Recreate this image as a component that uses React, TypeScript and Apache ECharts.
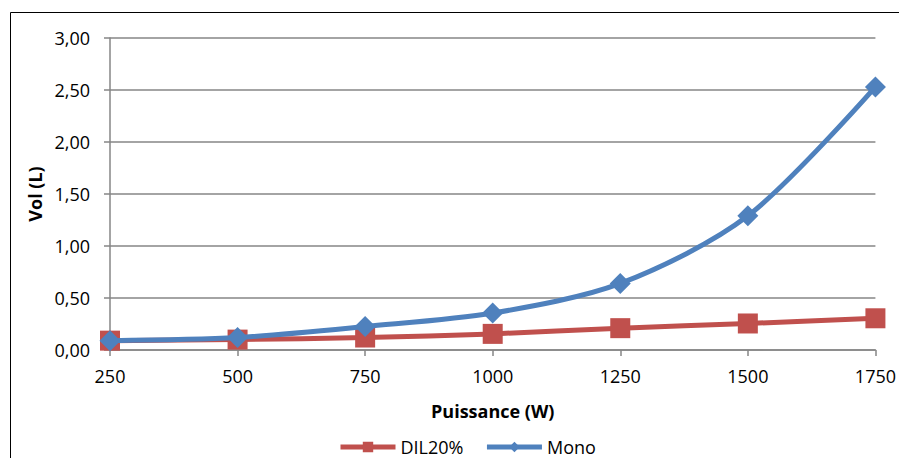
import React, { useEffect, useRef } from "react";
import * as echarts from "echarts";

const categories = ["250", "500", "750", "1000", "1250", "1500", "1750"];
const dil20 = [0.09, 0.1, 0.12, 0.155, 0.21, 0.255, 0.305];
const mono = [0.09, 0.12, 0.225, 0.355, 0.64, 1.29, 2.53];
const yTicks = { min: 0, max: 3, interval: 0.5 };

const FONT = "'Open Sans', 'Liberation Sans', sans-serif";

export default function App() {
  const ref = useRef<HTMLDivElement>(null);
  useEffect(() => {
    document.body.style.margin = "0";
    const chart = echarts.init(ref.current!, null, { renderer: "svg" });
    chart.setOption({
      animation: false,
      backgroundColor: "#ffffff",
      textStyle: { fontFamily: FONT },
      graphic: [
        {
          type: "rect",
          shape: { x: 10.5, y: 12.5, width: 1000, height: 1000 },
          style: { fill: "none", stroke: "#000000", lineWidth: 1 },
          silent: true,
        },
      ],
      grid: { left: 110, right: 23, top: 38, bottom: 108, containLabel: false },
      legend: {
        top: 433,
        left: 333,
        itemWidth: 55,
        itemHeight: 13,
        itemGap: 21,
        lineStyle: { width: 5 },
        textStyle: { fontFamily: FONT, fontSize: 18, color: "#000" },
        data: ["DIL20%", "Mono"],
      },
      xAxis: {
        type: "category",
        data: categories,
        boundaryGap: false,
        name: "Puissance (W)",
        nameLocation: "middle",
        nameGap: 52,
        nameTextStyle: { fontFamily: FONT, fontSize: 18, fontWeight: "bold", color: "#000" },
        axisLine: { lineStyle: { color: "#868686", width: 1.5 } },
        axisTick: { show: true, length: 6, lineStyle: { color: "#868686", width: 1.5 } },
        axisLabel: { fontFamily: FONT, fontSize: 18, color: "#000", margin: 17 },
        splitLine: { show: false },
      },
      yAxis: {
        type: "value",
        min: yTicks.min,
        max: yTicks.max,
        interval: yTicks.interval,
        name: "Vol (L)",
        nameLocation: "middle",
        nameGap: 66,
        nameRotate: 90,
        nameTextStyle: { fontFamily: FONT, fontSize: 18, fontWeight: "bold", color: "#000" },
        axisLine: { show: true, lineStyle: { color: "#868686", width: 1.5 } },
        axisTick: { show: true, length: 6, lineStyle: { color: "#868686", width: 1.5 } },
        axisLabel: {
          fontFamily: FONT,
          fontSize: 18,
          color: "#000",
          margin: 20,
          formatter: (v: number) => v.toFixed(2).replace(".", ","),
        },
        splitLine: { show: true, lineStyle: { color: "#868686", width: 1.5 } },
      },
      series: [
        {
          name: "DIL20%",
          type: "line",
          data: dil20,
          smooth: 0.3,
          symbol: "rect",
          symbolSize: 20,
          color: "#C0504D",
          lineStyle: { width: 5, color: "#C0504D" },
          itemStyle: { color: "#C0504D" },
          z: 2,
        },
        {
          name: "Mono",
          type: "line",
          data: mono,
          smooth: 0.3,
          symbol: "diamond",
          symbolSize: 21,
          color: "#4F81BD",
          lineStyle: { width: 5, color: "#4F81BD" },
          itemStyle: { color: "#4F81BD" },
          z: 3,
        },
      ],
    });
    return () => chart.dispose();
  }, []);
  return <div ref={ref} style={{ position: "absolute", left: 0, top: 0, width: 899, height: 458 }} />;
}
